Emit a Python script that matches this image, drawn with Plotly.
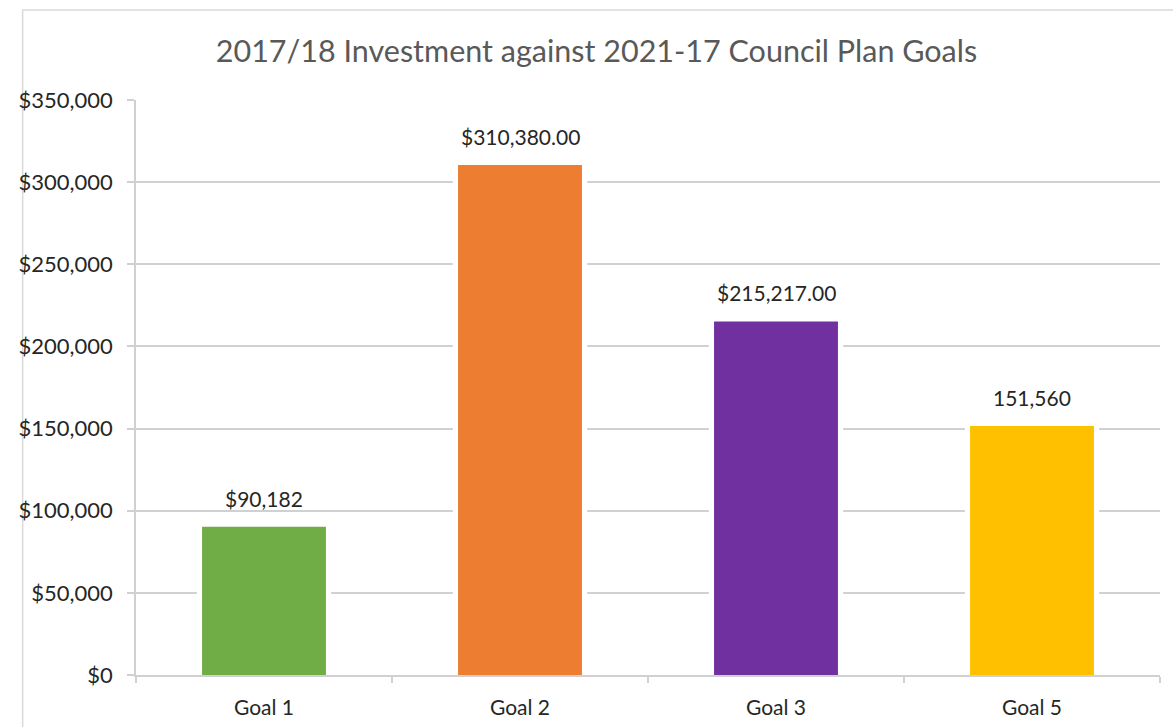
import plotly.graph_objects as go

# Investment per Council Plan goal
goals = ["Goal 1", "Goal 2", "Goal 3", "Goal 5"]
investment = [90182, 310380, 215217, 151560]
value_labels = ["$90,182", "$310,380.00", "$215,217.00", "151,560"]
bar_colors = ["#70AD47", "#ED7D31", "#7030A0", "#FFC000"]

y_ticks = [0, 50000, 100000, 150000, 200000, 250000, 300000, 350000]
y_tick_labels = ["$0", "$50,000", "$100,000", "$150,000", "$200,000",
                 "$250,000", "$300,000", "$350,000"]

FONT = "Lato"
GRID = "#D0D0D0"
TEXT = "#262626"

fig = go.Figure()

# White halo behind each bar so gridlines stop just short of the bar edges
fig.add_trace(go.Bar(
    x=goals, y=investment, width=0.525,
    marker=dict(color="white", line=dict(width=0)),
    hoverinfo="skip", showlegend=False,
))
fig.add_trace(go.Bar(
    x=goals, y=investment, width=0.484,
    marker=dict(color=bar_colors, line=dict(width=0)),
    showlegend=False,
))

for g, v, lab in zip(goals, investment, value_labels):
    fig.add_annotation(
        x=g, y=v, text=lab, showarrow=False,
        yanchor="bottom", yshift=14,
        font=dict(family=FONT, size=21, color=TEXT),
    )

# Outer chart frame
fig.add_shape(
    type="rect", xref="paper", yref="paper",
    x0=-0.1107, x1=1.2, y0=-0.2, y1=1.1565,
    line=dict(color="#D9D9D9", width=1.5), layer="below",
)

fig.update_layout(
    width=1173, height=727,
    margin=dict(l=136, r=13, t=100, b=52),
    paper_bgcolor="white", plot_bgcolor="white",
    barmode="overlay",
    title=dict(
        text="2017/18 Investment against 2021-17 Council Plan Goals",
        x=0.5085, xanchor="center", y=0.930, yanchor="middle",
        font=dict(family=FONT, size=30.5, color="#595959"),
    ),
    xaxis=dict(
        type="category", automargin=False,
        showline=True, linecolor=GRID, linewidth=1.5,
        ticks="outside", tickson="boundaries", ticklen=6,
        tickcolor=GRID, tickwidth=1.5,
        showgrid=False,
        ticklabelstandoff=13,
        tickfont=dict(family=FONT, size=21, color=TEXT),
    ),
    yaxis=dict(
        range=[0, 350000], automargin=False,
        tickvals=y_ticks, ticktext=y_tick_labels,
        showline=True, linecolor=GRID, linewidth=1.5,
        ticks="outside", ticklen=7, tickcolor=GRID, tickwidth=1.5,
        showgrid=True, gridcolor=GRID, gridwidth=1.5,
        zeroline=False,
        ticklabelstandoff=10,
        tickfont=dict(family=FONT, size=22, color=TEXT),
    ),
)

fig.write_html("out.html")
